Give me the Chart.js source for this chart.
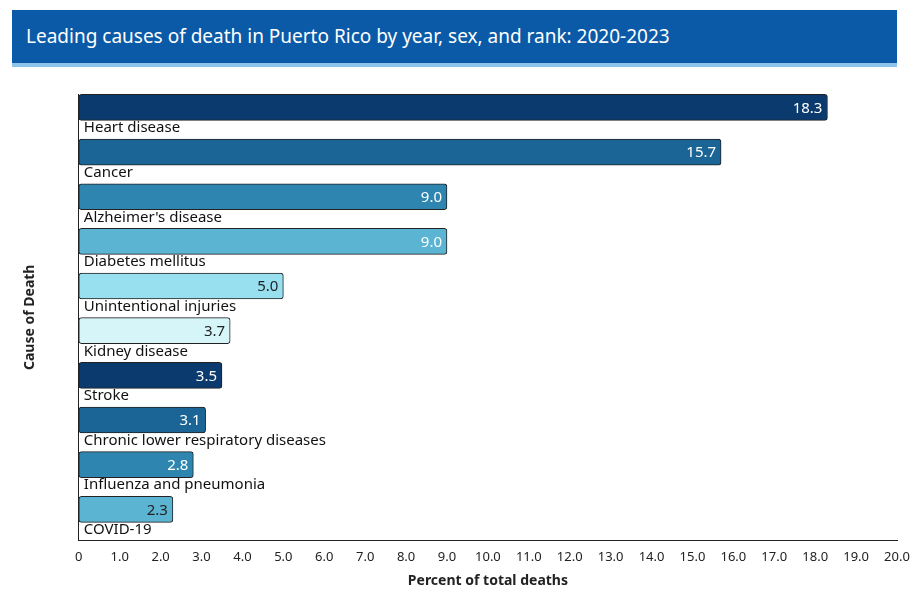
<!DOCTYPE html>
<html><head><meta charset="utf-8">
<script src="https://cdn.jsdelivr.net/npm/chart.js@4"></script>
<style>
body{margin:0;background:#fff;font-family:"Noto Sans",sans-serif}
#hdr{position:absolute;left:12px;top:10px;height:53px;background:#0a5aa8;border-bottom:4px solid #8ec4ec;color:#fff;font-size:19px;line-height:53px;padding-left:14px;width:871px}
#wrap{position:absolute;left:0;top:80px;width:915px;height:521px}
</style></head><body>
<div id="hdr">Leading causes of death in Puerto Rico by year, sex, and rank: 2020-2023</div>
<div id="wrap"><canvas id="c"></canvas></div>
<script>
const causes = ["Heart disease","Cancer","Alzheimer's disease","Diabetes mellitus","Unintentional injuries","Kidney disease","Stroke","Chronic lower respiratory diseases","Influenza and pneumonia","COVID-19"];
const percents = [18.3,15.7,9.0,9.0,5.0,3.7,3.5,3.1,2.8,2.3];
const barColors = ["#0b3b6e","#1a6496","#2e86b0","#5ab4d2","#98dff0","#d6f5f9","#0b3b6e","#1a6496","#2e86b0","#5ab4d2"];
const textColors = ["#fff","#fff","#fff","#fff","#222","#222","#fff","#fff","#fff","#222"];

const labelPlugin = {
  id:'lbl',
  afterDatasetsDraw(chart){
    const ctx = chart.ctx, xs = chart.scales.x, ys = chart.scales.y;
    const meta = chart.getDatasetMeta(0);
    ctx.save();
    ctx.font = '15px "Noto Sans"';
    ctx.textBaseline = 'middle';
    causes.forEach((c,i)=>{
      ctx.fillStyle = '#111'; ctx.textAlign='left';
      ctx.fillText(c, xs.left+5, ys.getPixelForValue(i+0.46));
      const el = meta.data[i];
      ctx.fillStyle = textColors[i]; ctx.textAlign='right';
      ctx.fillText(percents[i].toFixed(1), el.x-5, el.y+1);
    });
    ctx.restore();
  }
};

new Chart(document.getElementById('c'), {
  type:'bar',
  data:{datasets:[{data:percents.map((v,i)=>({x:v,y:i})),backgroundColor:barColors,borderColor:'#222',borderWidth:1,borderRadius:3,borderSkipped:false,barThickness:26}]},
  plugins:[labelPlugin],
  options:{
    indexAxis:'y',responsive:true,maintainAspectRatio:false,animation:false,
    layout:{padding:{left:18,right:18,top:14,bottom:8}},
    plugins:{legend:{display:false},tooltip:{enabled:false}},
    scales:{
      x:{type:'linear',min:0,max:20,
        ticks:{stepSize:1,color:'#222',font:{size:13,family:'"Noto Sans"'},callback:v=>v===0?'0':v.toFixed(1)},
        grid:{display:false,drawTicks:true,tickLength:6},border:{color:'#222'},
        title:{display:true,text:'Percent of total deaths',color:'#222',font:{size:14,weight:'bold',family:'"Noto Sans"'}}},
      y:{type:'linear',reverse:true,min:-0.3,max:9.7,offset:false,
        ticks:{display:false},grid:{display:false,drawTicks:false},border:{color:'#222'},
        title:{display:true,text:'Cause of Death',color:'#222',padding:{bottom:40},font:{size:14,weight:'bold',family:'"Noto Sans"'}}}
    }
  }
});
</script></body></html>
